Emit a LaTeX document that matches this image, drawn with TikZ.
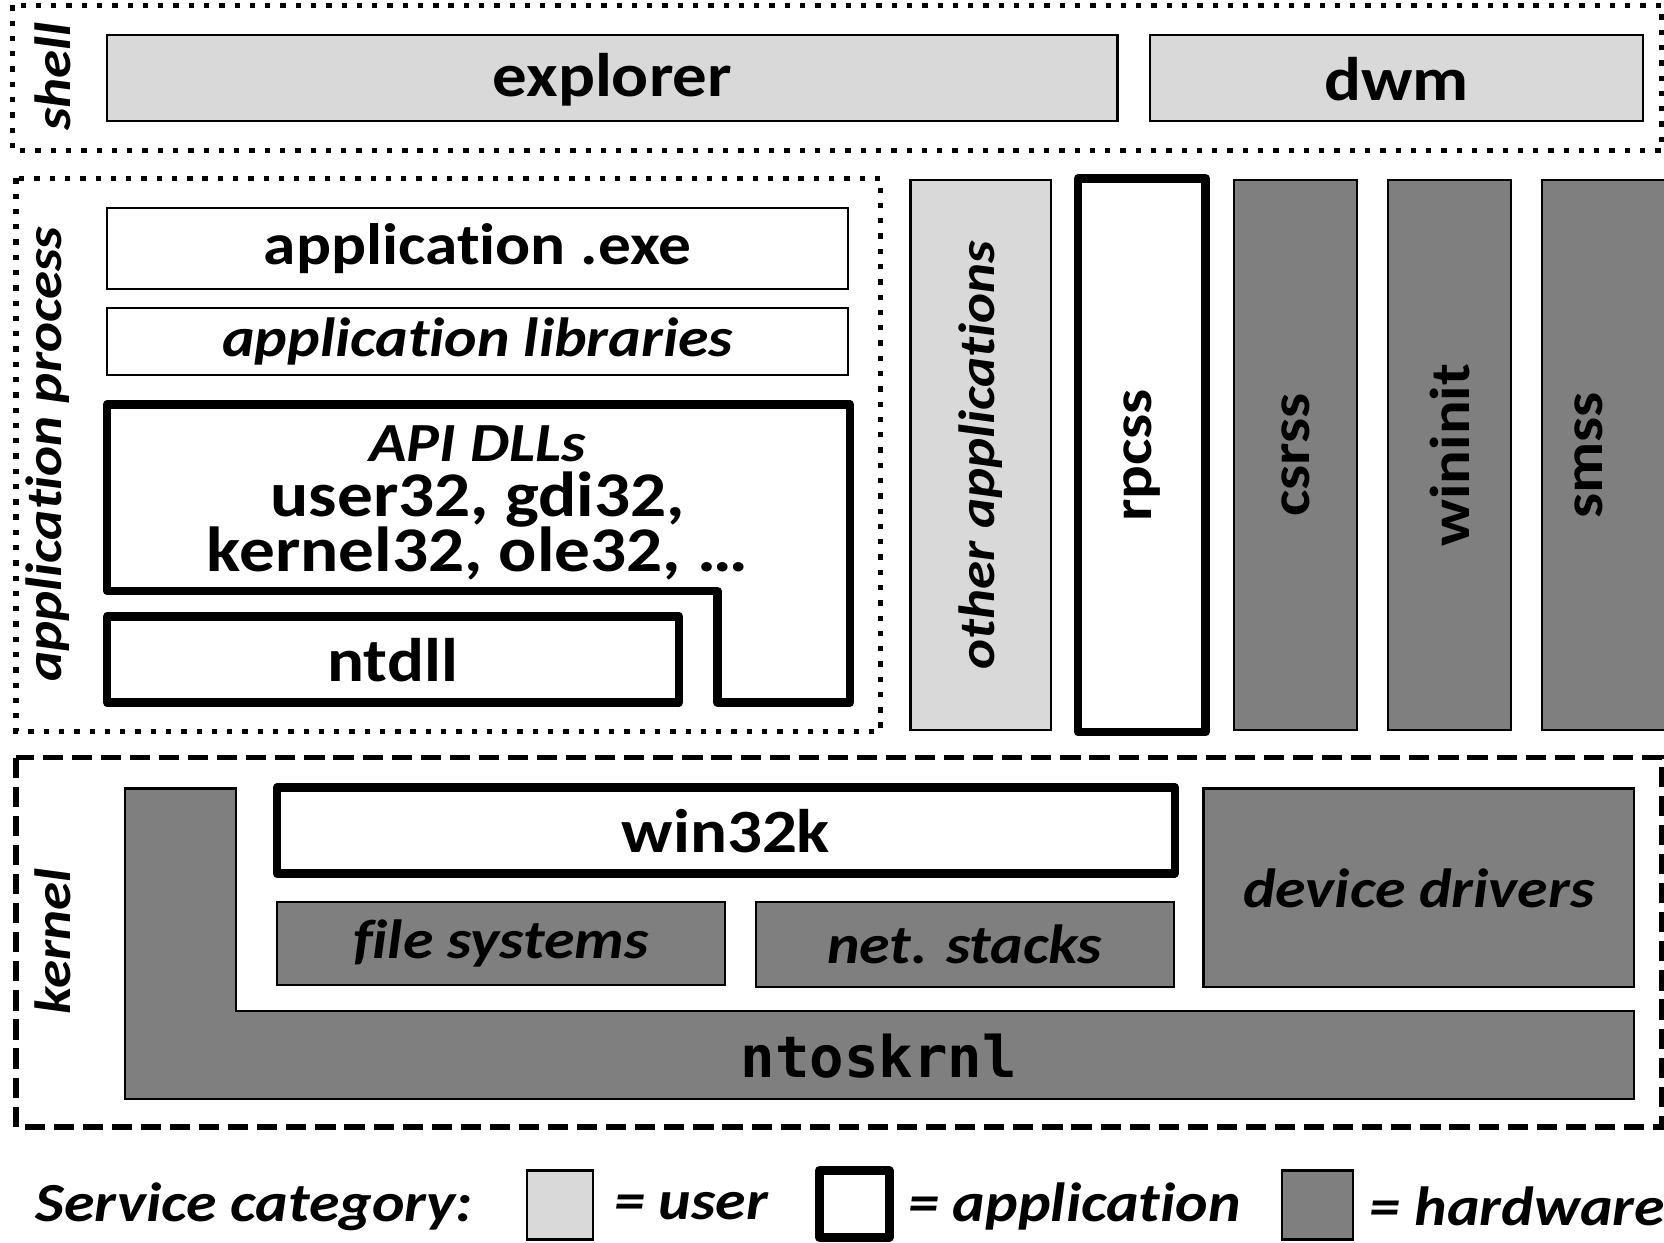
\documentclass[tikz,border=0pt]{standalone}
\usepackage{fontspec}
\setmainfont{Carlito}[FakeStretch=1.12, Ligatures=NoCommon]
\newfontfamily\monofont{DejaVu Sans Mono}
\setlength{\lineskiplimit}{-40pt}

\definecolor{userfill}{RGB}{217,217,217}
\definecolor{hwfill}{RGB}{127,127,127}

\tikzset{every picture/.style={line width=0.75pt}}
\tikzset{
  userbox/.style={draw, line width=1pt, fill=userfill},
  hwbox/.style={draw, line width=1pt, fill=hwfill},
  appbox/.style={draw, line width=4pt, fill=white, line join=round},
  plainbox/.style={draw, line width=1pt, fill=white},
  shellframe/.style={line width=2.5pt, dash pattern=on 2.5pt off 4.7pt},
  kernelframe/.style={line width=2.5pt, dash pattern=on 9.5pt off 4.2pt},
  lbl/.style={inner sep=0pt, font=\fontsize{29}{30}\selectfont\bfseries},
  ilbl/.style={inner sep=0pt, font=\fontsize{26}{30}\selectfont\bfseries\itshape},
  vlbl/.style={inner sep=0pt, rotate=90, font=\fontsize{26.5}{30}\selectfont\bfseries},
  dlbl/.style={inner sep=0pt, align=center, font=\fontsize{30}{25.8}\selectfont\bfseries},
  mlbl/.style={inner sep=0pt, font=\fontsize{27}{30}\selectfont\monofont\bfseries},
  side/.style={inner sep=0pt, rotate=90, font=\fontsize{24}{30}\selectfont\bfseries\itshape}
}

\begin{document}
\begin{tikzpicture}[x=0.5pt,y=0.5pt,yscale=-1,xscale=1]
\useasboundingbox (0,0) rectangle (1568,1171);

% shell row
\draw [shellframe] (12,5) rectangle (1566,142);
\draw [userbox] (101,33) rectangle (1053,114);
\draw [userbox] (1084,33) rectangle (1548,114);
\node [side] (shell) at (50,72) {shell};
\node [lbl] (explorer) at (577,75) {explorer};
\node [lbl] (dwm) at (1316,75) {dwm};

% application process
\draw [shellframe] (15,168) rectangle (830,689);
\node [side] (appproc) at (45,428) {application process};
\draw [plainbox] (101,196) rectangle (799,272);
\node [lbl, font=\fontsize{27.5}{30}\selectfont\bfseries] (appexe) at (450,234) {application .exe};
\draw [plainbox] (101,290) rectangle (799,353);
\node [ilbl] (applibs) at (450,322) {application libraries};
% API DLLs (L shape)
\draw [appbox] (101,381) -- (801,381) -- (801,662) -- (676,662) -- (676,557) -- (101,557) -- cycle;
\node [dlbl] (apidlls) at (450,474) {{\fontsize{26}{25.8}\selectfont\itshape API DLLs}\\user32, gdi32,\\kernel32, ole32, \dots};
\draw [appbox] (101,581) rectangle (640,662);
\node [lbl] (ntdll) at (370,622) {ntdll};

% other processes
\draw [userbox] (858,170) rectangle (990,688);
\node [side] (otherapps) at (924,429) {other applications};
\draw [appbox] (1016,168) rectangle (1136,690);
\node [vlbl] (rpcss) at (1076,429) {rpcss};
\draw [hwbox] (1163,170) rectangle (1279,688);
\node [vlbl] (csrss) at (1221,429) {csrss};
\draw [hwbox] (1308,170) rectangle (1424,688);
\node [vlbl] (wininit) at (1366,429) {wininit};
\draw [hwbox] (1453,170) rectangle (1590,688);
\node [vlbl] (smss) at (1497,429) {smss};

% kernel
\draw [kernelframe] (15,714) rectangle (1566,1062);
\node [side] (kernel) at (50,887) {kernel};
\draw [hwbox] (118,743) -- (222,743) -- (222,953) -- (1540,953) -- (1540,1036) -- (118,1036) -- cycle;
\node [mlbl] (ntoskrnl) at (828,995) {ntoskrnl};
\draw [appbox] (261,742) rectangle (1107,823);
\node [lbl] (win32k) at (684,783) {win32k};
\draw [hwbox] (261,850) rectangle (683,928);
\node [ilbl] (filesys) at (472,889) {file systems};
\draw [hwbox] (712,850) rectangle (1106,930);
\node [ilbl] (netstacks) at (909,890) {net. stacks};
\draw [hwbox] (1134,743) rectangle (1540,930);
\node [ilbl] (drivers) at (1337,837) {device drivers};

% legend
\node [ilbl, anchor=west] (legtitle) at (33,1137) {Service category:};
\draw [userbox] (497,1103) rectangle (559,1168);
\node [ilbl, anchor=west] (leguser) at (578,1137) {= user};
\draw [appbox] (772,1103) rectangle (838,1166);
\node [ilbl, anchor=west] (legapp) at (855,1137) {= application};
\draw [hwbox] (1208,1103) rectangle (1275,1168);
\node [ilbl, anchor=west] (leghw) at (1290,1137) {= hardware};

\end{tikzpicture}
\end{document}
